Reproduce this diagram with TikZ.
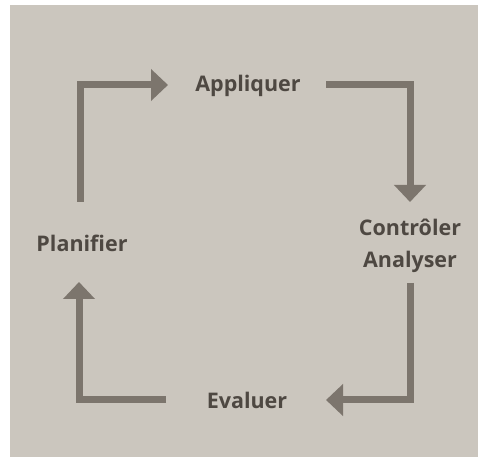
\documentclass[tikz,border=0pt]{standalone}
\usepackage{fontspec}
\setmainfont{Open Sans}
\usetikzlibrary{arrows.meta,calc}
\definecolor{paper}{RGB}{203,198,190}
\definecolor{arrowgrey}{RGB}{124,117,109}
\definecolor{inkgrey}{RGB}{78,72,66}
\tikzset{
  lbl/.style={text=inkgrey, font=\bfseries\fontsize{21.5}{32}\selectfont, inner sep=0pt, align=center},
  arr/.style={draw=arrowgrey, line width=7pt, line join=miter, -{Triangle[width=31pt,length=17pt]}}
}
\begin{document}
\begin{tikzpicture}[x=1pt,y=1pt]
\useasboundingbox (0,0) rectangle (481,457);
\fill[white] (0,0) rectangle (481,457);
\fill[paper] (10,0) rectangle (478,452);
\node[lbl] (app) at (248,371) {Appliquer};
\node[lbl] (plan) at (82,214) {Planifier};
\node[lbl] (ctrl) at (410,211) {Contrôler\\Analyser};
\node[lbl] (eval) at (247,57) {Evaluer};
\draw[arr] ($(plan.center)+(-2,41)$) |- ($(app.center)+(-80,1)$);
\draw[arr] ($(app.center)+(78,1)$) -| ($(ctrl.center)+(0,44)$);
\draw[arr] ($(ctrl.center)+(0,-37)$) |- ($(eval.center)+(79,0)$);
\draw[arr] ($(eval.center)+(-81,0)$) -| ($(plan.center)+(-3,-39)$);
\end{tikzpicture}
\end{document}
